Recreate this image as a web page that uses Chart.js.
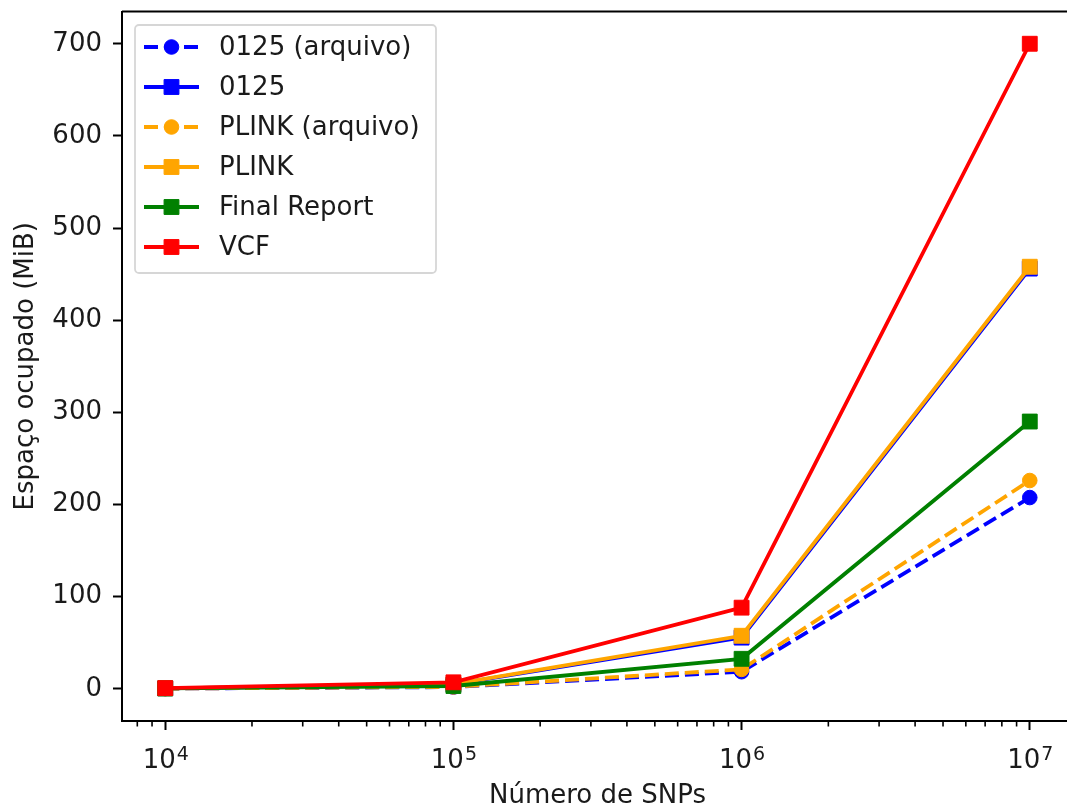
<!DOCTYPE html>
<html>
<head>
<meta charset="utf-8">
<title>Espaço ocupado por formato</title>
<script src="https://cdn.jsdelivr.net/npm/chart.js@4.4.1/dist/chart.umd.min.js"></script>
<style>
    html, body { margin: 0; padding: 0; background: #fff; overflow: hidden; }
    #wrap { width: 1090px; height: 812px; }
</style>
</head>
<body>
<div id="wrap"><canvas id="chart-space" width="1090" height="812"></canvas></div>
<script>
// ─── DATA ────────────────────────────────────────────────────
const snps = [1e4, 1e5, 1e6, 1e7];

const arquivo0125  = [0.2, 1.8, 18.5, 207.5];
const mem0125      = [0.5, 4.7, 55.5, 456];
const plinkArquivo = [0.2, 2.0, 21, 226];
const plink        = [0.5, 5.0, 57.5, 458];
const finalReport  = [0.3, 3.0, 32.5, 290];
const vcf          = [0.7, 7.0, 88, 700];

const seriesLabels = ['0125 (arquivo)', '0125', 'PLINK (arquivo)', 'PLINK', 'Final Report', 'VCF'];

const yTicks      = [0, 100, 200, 300, 400, 500, 600, 700];
const xMajorTicks = [1e4, 1e5, 1e6, 1e7];
const xTickBase   = '10';
const xTickExp    = ['4', '5', '6', '7'];

// ─── STYLE ───────────────────────────────────────────────────
const FONT = 'DejaVu Sans';
const FONT_SIZE = 26;
const TEXT = '#1a1a1a';
const BLUE = '#0000ff', ORANGE = '#ffa500', GREEN = '#008000', RED = '#ff0000';
const DASH = [14, 6];

const xMin = Math.pow(10, 3.85);
const xMax = Math.pow(10, 7.15);

function series(label, values, color, dashed, marker) {
    const isCircle = marker === 'circle';
    return {
        label,
        data: snps.map((x, i) => ({ x, y: values[i] })),
        borderColor: color,
        backgroundColor: color,
        borderWidth: 3.8,
        borderDash: dashed ? DASH : [],
        pointStyle: marker,
        pointRadius: isCircle ? 7.3 : 10.5,
        pointBorderWidth: 1,
        pointBackgroundColor: color,
        pointBorderColor: color,
        tension: 0,
        fill: false,
    };
}

const datasets = [
    series(seriesLabels[0], arquivo0125,  BLUE,   true,  'circle'),
    series(seriesLabels[1], mem0125,      BLUE,   false, 'rect'),
    series(seriesLabels[2], plinkArquivo, ORANGE, true,  'circle'),
    series(seriesLabels[3], plink,        ORANGE, false, 'rect'),
    series(seriesLabels[4], finalReport,  GREEN,  false, 'rect'),
    series(seriesLabels[5], vcf,          RED,    false, 'rect'),
];
// later series sit on top
datasets.forEach((d, i) => { d.order = datasets.length - i; });

// x ticks: every 1..9 × 10^n inside the range, labels only on decades
const xAllTicks = [];
for (let e = 3; e <= 7; e++) {
    for (let m = 1; m <= 9; m++) {
        const v = m * Math.pow(10, e);
        if (v >= xMin && v <= xMax) xAllTicks.push(v);
    }
}
const isMajor = v => xMajorTicks.some(t => Math.abs(t - v) / t < 1e-9);

// ─── FRAME, MINOR TICKS, DECADE LABELS ───────────────────────
const framePlugin = {
    id: 'frame',
    afterDraw(chart) {
        const { ctx, chartArea: a } = chart;
        const x = chart.scales.x;
        ctx.save();
        ctx.strokeStyle = '#000';
        ctx.lineWidth = 2;
        // top spine (the right one falls past the page edge)
        ctx.beginPath();
        ctx.moveTo(a.left, a.top);
        ctx.lineTo(a.right, a.top);
        ctx.stroke();

        ctx.lineWidth = 1.6;
        for (const v of xAllTicks) {
            if (isMajor(v)) continue;
            const px = x.getPixelForValue(v);
            ctx.beginPath();
            ctx.moveTo(px, a.bottom);
            ctx.lineTo(px, a.bottom + 5.5);
            ctx.stroke();
        }

        // 10^n labels with a raised exponent
        const baseFont = `${FONT_SIZE}px "${FONT}"`;
        const expFont = `${Math.round(FONT_SIZE * 0.72)}px "${FONT}"`;
        const baseline = a.bottom + 47;
        ctx.fillStyle = TEXT;
        ctx.textAlign = 'left';
        ctx.textBaseline = 'alphabetic';
        xMajorTicks.forEach((v, i) => {
            ctx.font = baseFont;
            const wb = ctx.measureText(xTickBase).width;
            ctx.font = expFont;
            const we = ctx.measureText(xTickExp[i]).width;
            const left = x.getPixelForValue(v) - (wb + we) / 2;
            ctx.font = baseFont;
            ctx.fillText(xTickBase, left, baseline);
            ctx.font = expFont;
            ctx.fillText(xTickExp[i], left + wb + 1, baseline - 8);
        });
        ctx.restore();
    },
};

// ─── LEGEND (line + marker samples) ──────────────────────────
const legendPlugin = {
    id: 'lineLegend',
    afterDraw(chart) {
        const { ctx } = chart;
        const box = { x: 135, y: 25, w: 301, h: 248 };
        ctx.save();
        ctx.beginPath();
        ctx.roundRect(box.x, box.y, box.w, box.h, 4);
        ctx.fillStyle = 'rgba(255,255,255,0.8)';
        ctx.fill();
        ctx.strokeStyle = 'rgba(204,204,204,0.8)';
        ctx.lineWidth = 1.8;
        ctx.stroke();

        ctx.font = `${FONT_SIZE}px "${FONT}"`;
        ctx.textBaseline = 'middle';
        ctx.textAlign = 'left';

        chart.data.datasets.forEach((d, i) => {
            const y = 47 + i * 40;
            ctx.strokeStyle = d.borderColor;
            ctx.fillStyle = d.borderColor;
            ctx.lineWidth = d.borderWidth;
            ctx.setLineDash(d.borderDash);
            ctx.beginPath();
            ctx.moveTo(144, y);
            ctx.lineTo(199, y);
            ctx.stroke();
            ctx.setLineDash([]);
            ctx.lineWidth = d.pointBorderWidth;
            Chart.helpers.drawPoint(ctx, {
                pointStyle: d.pointStyle,
                radius: d.pointRadius,
                rotation: 0,
                borderWidth: d.pointBorderWidth,
            }, 171.5, y);
            ctx.fillStyle = TEXT;
            ctx.fillText(d.label, 219, y + 1);
        });
        ctx.restore();
    },
};

// ─── CHART ───────────────────────────────────────────────────
new Chart(document.getElementById('chart-space'), {
    type: 'line',
    data: { datasets },
    options: {
        responsive: false,
        animation: false,
        devicePixelRatio: 1,
        layout: { padding: { left: 0, top: 11, right: 17, bottom: 0 } },
        plugins: {
            legend: { display: false },
            tooltip: { enabled: false },
        },
        scales: {
            x: {
                type: 'logarithmic',
                min: xMin,
                max: xMax,
                afterBuildTicks: s => { s.ticks = xAllTicks.map(value => ({ value })); },
                afterFit: s => {
                    s.height = 91;
                    s.paddingLeft = 0;
                    s.paddingRight = 0;
                },
                ticks: { display: false, autoSkip: false, maxRotation: 0 },
                grid: {
                    drawOnChartArea: false,
                    tickLength: 9,
                    tickWidth: 2,
                    tickColor: c => (c.tick && isMajor(c.tick.value)) ? '#000' : 'rgba(0,0,0,0)',
                },
                border: { display: true, color: '#000', width: 2 },
                title: {
                    display: true,
                    text: 'Número de SNPs',
                    color: TEXT,
                    font: { family: FONT, size: FONT_SIZE },
                    padding: { top: 0, bottom: 0 },
                },
            },
            y: {
                type: 'linear',
                min: -35,
                max: 735,
                afterBuildTicks: s => { s.ticks = yTicks.map(value => ({ value })); },
                afterFit: s => {
                    s.width = 122;
                    s.paddingTop = 0;
                    s.paddingBottom = 0;
                },
                ticks: {
                    padding: 11,
                    color: TEXT,
                    font: { family: FONT, size: FONT_SIZE },
                },
                grid: {
                    drawOnChartArea: false,
                    tickLength: 9,
                    tickWidth: 2,
                    tickColor: '#000',
                },
                border: { display: true, color: '#000', width: 2 },
                title: {
                    display: true,
                    text: 'Espaço ocupado (MiB)',
                    color: TEXT,
                    font: { family: FONT, size: FONT_SIZE },
                    padding: { top: 11, bottom: 0 },
                },
            },
        },
    },
    plugins: [framePlugin, legendPlugin],
});
</script>
</body>
</html>
